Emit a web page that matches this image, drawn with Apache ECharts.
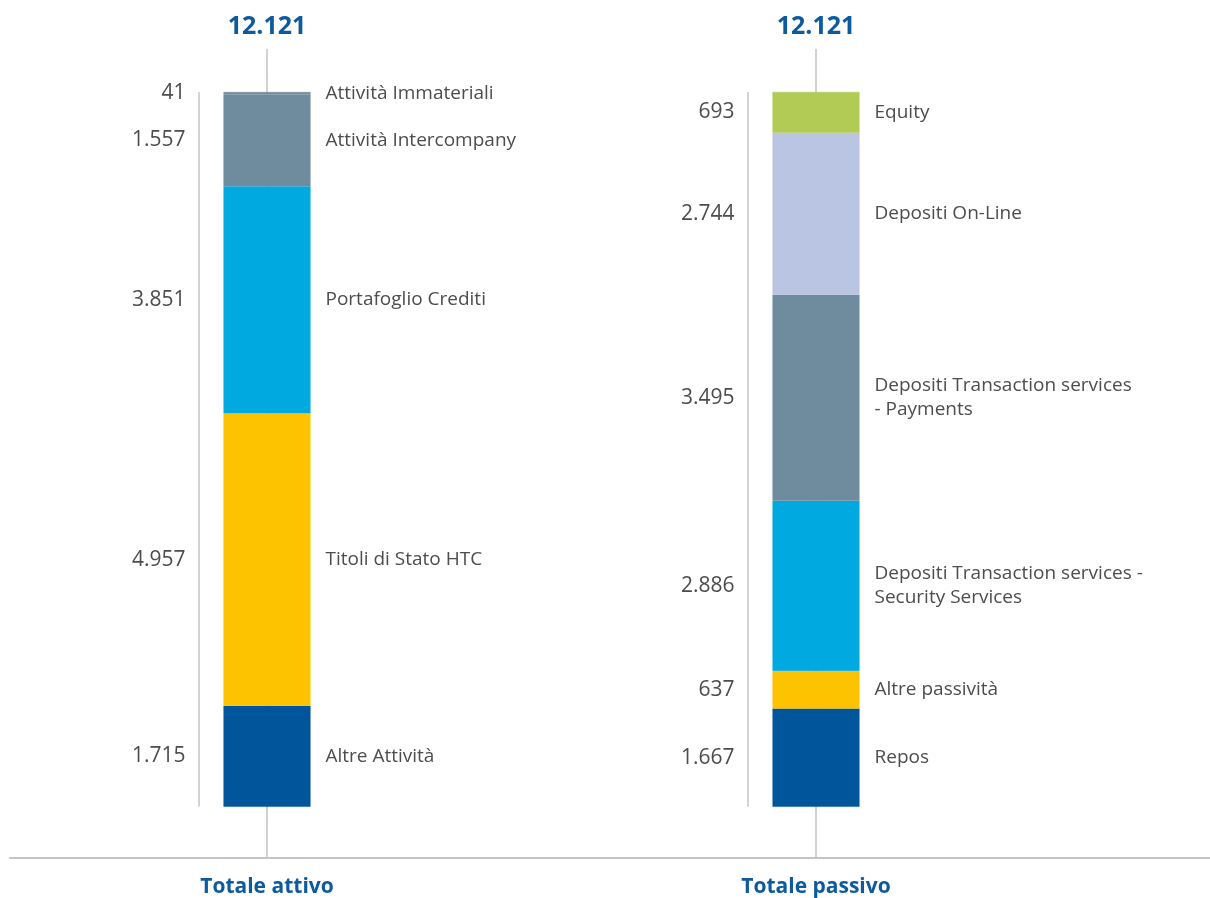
<!DOCTYPE html>
<html>
<head>
<meta charset="utf-8">
<script src="https://cdn.jsdelivr.net/npm/echarts@6/dist/echarts.min.js"></script>
<style>
  html, body { margin: 0; padding: 0; background: #fff; }
  #chart { width: 1210px; height: 898px; }
</style>
</head>
<body>
<div id="chart"></div>
<script>
// dati (milioni di euro)
const categories = ['Totale attivo', 'Totale passivo']
const totals = [12121, 12121]

// dal basso verso l'alto
const attivoNames = ['Altre Attività', 'Titoli di Stato HTC', 'Portafoglio Crediti', 'Attività Intercompany', 'Attività Immateriali']
const attivoValues = [1715, 4957, 3851, 1557, 41]

const passivoNames = ['Repos', 'Altre passività', 'Depositi Transaction services -\nSecurity Services', 'Depositi Transaction services\n- Payments', 'Depositi On-Line', 'Equity']
const passivoValues = [1667, 637, 2886, 3495, 2744, 693]

const attivoColors = ['#00559B', '#FDC300', '#00A9E0', '#6E8C9E', '#6E8C9E']
const passivoColors = ['#00559B', '#FDC300', '#00A9E0', '#6E8C9E', '#BAC5E3', '#B1CB55']

const FONT = '"Open Sans", sans-serif'
const BLUE = '#0D5A9E'
const TEXT = '#4D4D4D'
const LINE = '#C4C4C4'
const BAR_W = 87

const fmt = n => String(n).replace(/\B(?=(\d{3})+(?!\d))/g, '.')

const chart = echarts.init(document.getElementById('chart'))

const series = []
function addSide(names, values, colors, idx) {
  names.forEach((name, i) => {
    const data = categories.map((c, k) => (k === idx ? values[i] : '-'))
    series.push({
      name: name,
      type: 'bar',
      stack: 'tot',
      xAxisIndex: 0,
      yAxisIndex: 0,
      barWidth: BAR_W,
      clip: false,
      data: data,
      itemStyle: { color: colors[i], borderColor: colors[i], borderWidth: 0.5 },
      label: {
        show: true,
        position: 'right',
        distance: 15,
        formatter: () => name,
        color: TEXT,
        fontFamily: FONT,
        fontSize: 19,
        lineHeight: 24
      },
      silent: true
    })
    // serie trasparente per le etichette dei valori a sinistra
    series.push({
      type: 'bar',
      stack: 'val',
      xAxisIndex: 1,
      yAxisIndex: 0,
      barWidth: BAR_W,
      clip: false,
      data: data,
      itemStyle: { color: 'rgba(0,0,0,0)' },
      label: {
        show: true,
        position: 'left',
        distance: 38,
        formatter: p => fmt(p.value),
        color: TEXT,
        fontFamily: FONT,
        fontSize: 21
      },
      silent: true
    })
  })
}
addSide(attivoNames, attivoValues, attivoColors, 0)
addSide(passivoNames, passivoValues, passivoColors, 1)

// linee verticali a sinistra di ogni barra
series.push({
  type: 'custom',
  xAxisIndex: 0,
  yAxisIndex: 0,
  silent: true,
  clip: false,
  data: totals.map((t, i) => [i, t]),
  renderItem: (params, api) => {
    const top = api.coord([api.value(0), api.value(1)])
    const bottom = api.coord([api.value(0), 0])
    const x = top[0] - 68
    return {
      type: 'line',
      shape: { x1: x, y1: top[1], x2: x, y2: bottom[1] },
      style: { stroke: LINE, lineWidth: 1.5 }
    }
  },
  z: 1
})

const option = {
  animation: false,
  grid: [
    { left: 267, right: 394, top: 92, bottom: 40 },
    { left: 10, right: 0, top: 800, bottom: 40 }
  ],
  xAxis: [
    {
      type: 'category',
      gridIndex: 0,
      boundaryGap: false,
      data: categories,
      axisLine: { show: false, onZero: false },
      axisTick: { show: true, inside: true, length: 808, lineStyle: { color: LINE, width: 1.5 } },
      axisLabel: { color: BLUE, fontFamily: FONT, fontSize: 21, fontWeight: 'bold', margin: 20 }
    },
    {
      type: 'category',
      gridIndex: 0,
      boundaryGap: false,
      position: 'top',
      data: totals.map(fmt),
      axisLine: { show: false, onZero: false },
      axisTick: { show: false },
      axisLabel: { color: BLUE, fontFamily: FONT, fontSize: 25, fontWeight: 'bold', margin: 53 }
    },
    {
      type: 'category',
      gridIndex: 1,
      data: [''],
      axisLine: { show: true, onZero: false, lineStyle: { color: LINE, width: 2 } },
      axisTick: { show: false },
      axisLabel: { show: false }
    }
  ],
  yAxis: [
    { type: 'value', gridIndex: 0, min: -850, max: 12121, show: false },
    { type: 'value', gridIndex: 1, show: false }
  ],
  series: series
}

chart.setOption(option)
</script>
</body>
</html>
